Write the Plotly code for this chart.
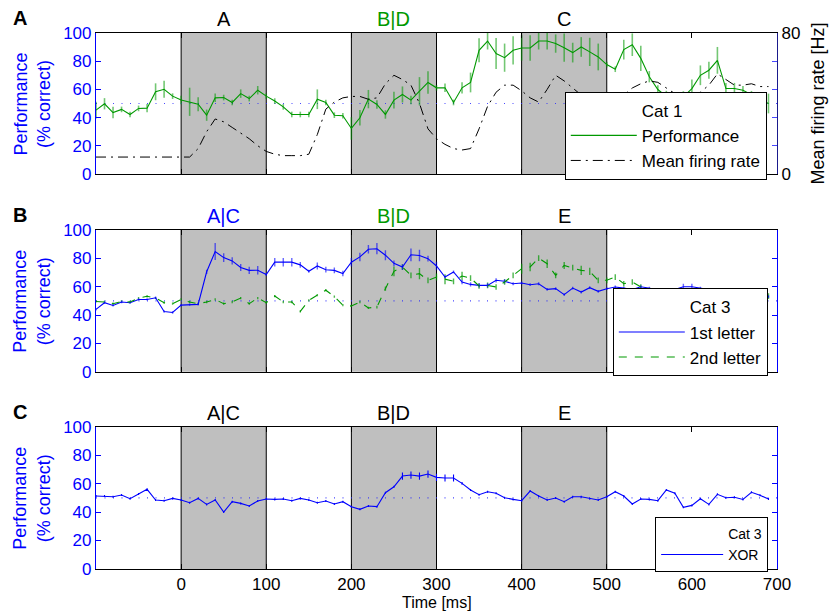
import plotly.graph_objects as go

# ---------------- data ----------------
TIME_MS = list(range(-100, 700, 10))

CAT1_PERF = [45.3, 49.8, 43.6, 45.8, 42.2, 46.5, 46.7, 58.3, 60.1, 55.2,
             52.4, 51.2, 49.5, 41.7, 54.0, 54.2, 50.7, 57.0, 53.5, 59.4,
             55.2, 51.7, 47.6, 42.2, 42.2, 42.2, 53.0, 50.7, 41.7, 41.3,
             32.3, 39.9, 53.1, 49.3, 42.2, 52.4, 56.4, 52.4, 58.7, 64.9,
             61.1, 61.1, 50.7, 61.1, 64.9, 87.7, 94.3, 85.4, 82.5, 87.7,
             89.4, 89.4, 94.3, 94.3, 92.5, 89.6, 86.1, 90.1, 86.6, 83.0,
             77.6, 74.3, 88.2, 91.7, 82.0, 69.0, 59.9, 55.0, 52.0, 54.7,
             60.6, 70.0, 73.6, 80.6, 60.6, 60.6, 59.4, 55.9, 53.0, 50.0]
CAT1_PERF_ERR = [6, 4, 4, 2, 2, 2, 3, 6, 6, 2,
                 3, 10, 5, 4, 3, 2, 2, 3, 2, 3,
                 2, 2, 2, 2, 2, 2, 7, 2, 2, 2,
                 8, 5.5, 6.5, 3, 3, 6, 5.7, 3, 10, 8,
                 2, 3, 2, 4, 7, 8.5, 6, 11, 10, 10,
                 9, 9, 6, 6, 6.5, 10, 7, 7, 10, 9.5,
                 2, 2, 7, 8, 9, 4, 3, 4, 4, 4,
                 6.5, 7, 6, 9.5, 4, 4, 3, 3, 3, 7]
CAT1_RATE_HZ = [9.6, 9.6, 9.6, 9.4, 9.3, 9.2, 9.3, 9.6, 9.6, 9.4,
                9.4, 9.6, 14.4, 24.0, 31.2, 29.6, 26.4, 23.2, 20.0, 16.0,
                12.8, 11.2, 10.4, 10.4, 10.4, 11.2, 22.4, 36.8, 40.8, 43.2,
                44.0, 44.0, 42.4, 43.2, 51.2, 56.0, 53.6, 50.4, 40.0, 25.6,
                20.0, 16.8, 14.4, 13.6, 14.4, 25.6, 38.4, 46.4, 50.4, 50.4,
                47.2, 43.2, 40.8, 48.0, 56.0, 52.8, 48.8, 44.8, 41.6, 40.0,
                40.0, 41.6, 44.8, 48.8, 51.2, 52.8, 52.0, 48.8, 45.6, 44.0,
                44.8, 46.4, 50.4, 56.8, 53.6, 50.4, 50.4, 51.2, 49.6, 49.6]

CAT3_FIRST = [44.0, 48.7, 46.8, 49.2, 48.7, 51.0, 51.0, 52.2, 42.5, 41.8,
              47.0, 47.3, 47.5, 70.5, 84.8, 80.5, 78.2, 73.5, 71.5, 71.6,
              68.6, 77.3, 77.3, 77.3, 75.4, 70.9, 74.6, 72.0, 71.5, 69.3,
              77.3, 81.0, 86.4, 86.8, 82.2, 76.5, 73.8, 82.5, 82.0, 79.8,
              74.6, 66.8, 70.4, 63.3, 61.6, 60.9, 60.9, 64.5, 63.8, 62.1,
              62.6, 61.4, 62.1, 58.1, 58.6, 54.4, 59.0, 56.2, 59.3, 56.7,
              58.6, 59.8, 59.0, 58.0, 60.0, 59.0, 58.0, 57.0, 58.0, 60.0,
              60.0, 59.0, 58.0, 57.0, 56.0, 57.0, 55.0, 56.0, 54.0, 53.0]
CAT3_FIRST_ERR = [0.8, 0.8, 0.8, 0.8, 0.8, 0.8, 0.8, 0.8, 0.8, 0.8,
                  0.8, 0.8, 0.8, 1.5, 6, 3, 2.5, 2.5, 2.5, 3,
                  1, 3, 3, 3, 2, 1, 2.5, 2, 2, 2,
                  3, 3, 3, 4, 3.5, 2, 2, 4.5, 4, 2,
                  3, 1, 1, 1.5, 1.5, 1.5, 1.5, 1.5, 1.5, 1,
                  1, 1, 1, 1, 1, 1, 1, 1, 1, 1,
                  1, 1, 1, 1, 1, 1, 1, 1, 1, 2,
                  2, 1, 1, 1, 1, 1, 1, 1, 1, 1]
CAT3_SECOND = [49.6, 49.2, 48.0, 49.6, 49.2, 52.0, 53.2, 52.0, 48.7, 48.0,
               51.0, 49.2, 48.0, 49.2, 51.0, 48.0, 49.2, 52.0, 48.0, 52.0,
               48.7, 53.4, 49.2, 49.2, 42.6, 50.4, 54.0, 57.5, 53.0, 47.0,
               46.4, 49.2, 45.0, 45.6, 58.6, 70.8, 73.9, 68.0, 69.2, 64.5,
               66.8, 65.2, 63.8, 67.5, 66.1, 60.5, 60.9, 59.8, 63.3, 68.0,
               72.7, 73.9, 80.2, 76.2, 68.0, 75.0, 73.4, 71.5, 70.8, 64.5,
               64.5, 66.8, 62.1, 63.3, 59.8, 57.0, 56.0, 57.0, 56.0, 55.0,
               56.0, 55.0, 56.0, 55.0, 54.0, 55.0, 54.0, 54.0, 53.5, 53.4]
CAT3_SECOND_ERR = [0.8, 0.8, 0.8, 0.8, 0.8, 0.8, 0.8, 0.8, 0.8, 0.8,
                   0.8, 0.8, 0.8, 0.8, 0.8, 0.8, 0.8, 0.8, 0.8, 0.8,
                   0.8, 0.8, 0.8, 0.8, 0.8, 0.8, 0.8, 0.8, 0.8, 0.8,
                   0.8, 0.8, 0.8, 1, 1.5, 3.5, 2, 2, 4, 2,
                   2.5, 3.5, 2, 3, 2, 2, 2, 2, 2, 2,
                   3.5, 3, 2, 3, 2, 2.5, 2, 3.3, 2.6, 2,
                   2, 2, 2, 2, 2, 2, 2, 2, 2, 2,
                   2, 2, 2, 2, 2, 2, 2, 2, 2, 2]

CAT3_XOR = [51.3, 51.3, 50.8, 52.0, 49.4, 52.7, 56.0, 48.5, 48.0, 49.6,
            48.5, 46.6, 49.6, 45.4, 48.5, 40.0, 47.3, 46.1, 44.3, 47.8,
            49.2, 48.9, 49.2, 48.0, 49.6, 48.5, 46.6, 47.8, 45.7, 47.3,
            43.8, 41.9, 44.3, 43.8, 53.6, 57.8, 65.3, 66.0, 65.3, 66.7,
            64.4, 63.9, 63.9, 60.2, 55.5, 52.2, 54.3, 53.2, 50.1, 48.9,
            48.0, 54.8, 51.3, 48.5, 49.9, 47.3, 50.8, 50.8, 49.4, 48.5,
            50.8, 54.3, 51.3, 45.7, 49.2, 48.9, 48.0, 55.5, 53.2, 43.3,
            44.7, 49.4, 45.4, 52.5, 50.1, 50.4, 48.9, 53.9, 51.8, 49.2]
CAT3_XOR_ERR = [0.7] * 36 + [2.5, 2.5, 2.5, 2.5, 2.5, 2.5, 2.5, 1.0] + [0.7] * 36

STIM_ONSETS = [0, 200, 400]
STIM_DURATION = 100
EVENT_LINES = [0, 100, 200, 300, 400, 500]
CHANCE = 50
LABELS_A = [("A", 50, "black"), ("B|D", 250, "#009900"), ("C", 450, "black")]
LABELS_B = [("A|C", 50, "#0000ff"), ("B|D", 250, "#009900"), ("E", 450, "black")]
LABELS_C = [("A|C", 50, "black"), ("B|D", 250, "black"), ("E", 450, "black")]
X_TICKS = [0, 100, 200, 300, 400, 500, 600, 700]
Y_TICKS = [0, 20, 40, 60, 80, 100]
RATE_TICKS = [0, 16, 32, 48, 64, 80]

# ---------------- style ----------------
FONT = "Liberation Sans, Arial, sans-serif"
BLUE = "#0000ff"
GREEN = "#009900"
NAVY = "#1a1a8c"
GRAY = "#bfbfbf"


def err_segments(t, v, e):
    xs, ys = [], []
    for ti, vi, ei in zip(t, v, e):
        xs += [ti, ti, None]
        ys += [vi - ei, vi + ei, None]
    return xs, ys


fig = go.Figure()

# ----- Panel A -----
ex, ey = err_segments(TIME_MS, CAT1_PERF, CAT1_PERF_ERR)
fig.add_trace(go.Scatter(x=[None], y=[None], mode="lines", name="Cat 1",
                         line=dict(color="rgba(0,0,0,0)"), legend="legend",
                         xaxis="x", yaxis="y"))
fig.add_trace(go.Scatter(x=TIME_MS, y=CAT1_RATE_HZ, mode="lines", showlegend=False,
                         line=dict(color="black", width=1, dash="10px,5px,2px,5px"),
                         xaxis="x", yaxis="y2"))
fig.add_trace(go.Scatter(x=ex, y=ey, mode="lines", showlegend=False,
                         line=dict(color="rgba(0,153,0,0.55)", width=1.6),
                         xaxis="x", yaxis="y"))
fig.add_trace(go.Scatter(x=TIME_MS, y=CAT1_PERF, mode="lines", name="Performance",
                         line=dict(color=GREEN, width=1.1), legend="legend",
                         xaxis="x", yaxis="y"))
fig.add_trace(go.Scatter(x=[None], y=[None], mode="lines", name="Mean firing rate",
                         line=dict(color="black", width=1, dash="10px,5px,2px,5px"),
                         legend="legend", xaxis="x", yaxis="y2"))

# ----- Panel B -----
fig.add_trace(go.Scatter(x=[None], y=[None], mode="lines", name="Cat 3",
                         line=dict(color="rgba(0,0,0,0)"), legend="legend2",
                         xaxis="x2", yaxis="y3"))
ex, ey = err_segments(TIME_MS, CAT3_SECOND, CAT3_SECOND_ERR)
fig.add_trace(go.Scatter(x=ex, y=ey, mode="lines", showlegend=False,
                         line=dict(color="rgba(0,153,0,0.7)", width=1.4),
                         xaxis="x2", yaxis="y3"))
ex, ey = err_segments(TIME_MS, CAT3_FIRST, CAT3_FIRST_ERR)
fig.add_trace(go.Scatter(x=ex, y=ey, mode="lines", showlegend=False,
                         line=dict(color="rgba(0,0,255,0.6)", width=1.4),
                         xaxis="x2", yaxis="y3"))
fig.add_trace(go.Scatter(x=TIME_MS, y=CAT3_FIRST, mode="lines", name="1st letter",
                         line=dict(color=BLUE, width=1.1), legend="legend2",
                         xaxis="x2", yaxis="y3"))
fig.add_trace(go.Scatter(x=TIME_MS, y=CAT3_SECOND, mode="lines", name="2nd letter",
                         line=dict(color=GREEN, width=1.1, dash="8px,8px"), legend="legend2",
                         xaxis="x2", yaxis="y3"))

# ----- Panel C -----
fig.add_trace(go.Scatter(x=[None], y=[None], mode="lines", name="Cat 3",
                         line=dict(color="rgba(0,0,0,0)"), legend="legend3",
                         xaxis="x3", yaxis="y4"))
ex, ey = err_segments(TIME_MS, CAT3_XOR, CAT3_XOR_ERR)
fig.add_trace(go.Scatter(x=ex, y=ey, mode="lines", showlegend=False,
                         line=dict(color=BLUE, width=1.1),
                         xaxis="x3", yaxis="y4"))
fig.add_trace(go.Scatter(x=TIME_MS, y=CAT3_XOR, mode="lines", name="XOR",
                         line=dict(color=BLUE, width=1.1), legend="legend3",
                         xaxis="x3", yaxis="y4"))

# ----- shapes -----
shapes = []
for xr, yr in [("x", "y"), ("x2", "y3"), ("x3", "y4")]:
    for s in STIM_ONSETS:
        shapes.append(dict(type="rect", xref=xr, yref=yr + " domain", x0=s, x1=s + STIM_DURATION,
                           y0=0, y1=1, fillcolor=GRAY, line=dict(width=0), layer="below"))
    for t in EVENT_LINES:
        shapes.append(dict(type="line", xref=xr, yref=yr + " domain", x0=t, x1=t, y0=0, y1=1,
                           line=dict(color="black", width=1), layer="below"))
    shapes.append(dict(type="line", xref=xr + " domain", yref=yr, x0=0, x1=1, y0=CHANCE, y1=CHANCE,
                       line=dict(color="rgba(40,40,255,0.85)", width=1.2, dash="1px,7.5px"),
                       layer="below"))

# ----- annotations -----
ann = []
for labels, yr in [(LABELS_A, "y"), (LABELS_B, "y3"), (LABELS_C, "y4")]:
    xr = {"y": "x", "y3": "x2", "y4": "x3"}[yr]
    for txt, xc, col in labels:
        ann.append(dict(text=txt, x=xc, xref=xr, y=1, yref=yr + " domain", yanchor="bottom",
                        xanchor="center", showarrow=False, yshift=1,
                        font=dict(size=20, color=col, family=FONT)))

doms = {"y": (0.737, 1.0), "y3": (0.368, 0.6325), "y4": (0.0, 0.2655)}
for letter, yr in [("A", "y"), ("B", "y3"), ("C", "y4")]:
    d0, d1 = doms[yr]
    ann.append(dict(text="<b>%s</b>" % letter, x=-0.111, xref="paper", y=d1, yref="paper",
                    xanchor="center", yanchor="bottom", yshift=2, showarrow=False,
                    font=dict(size=20, color="black", family=FONT)))
    ann.append(dict(text="Performance<br>(% correct)", x=-0.094, xref="paper",
                    y=(d0 + d1) / 2, yref="paper", xanchor="center", yanchor="middle",
                    textangle=-90, showarrow=False,
                    font=dict(size=18, color=BLUE, family=FONT)))

ann.append(dict(text="Mean firing rate [Hz]", x=1.0, xref="paper", xshift=41,
                y=sum(doms["y"]) / 2, yref="paper", xanchor="center", yanchor="middle",
                textangle=-90, showarrow=False, font=dict(size=18, color="black", family=FONT)))
ann.append(dict(text="Time [ms]", x=0.5, xref="paper", y=-0.05, yref="paper", yshift=3,
                xanchor="center", yanchor="top", showarrow=False, borderpad=0,
                font=dict(size=16, color="black", family=FONT)))

# ----- axes -----
def xax(anchor, labels):
    return dict(domain=[0, 1], anchor=anchor, range=[-100, 700], tickvals=X_TICKS,
                showticklabels=labels, ticks="inside", ticklen=5, tickcolor="black",
                showline=True, linecolor="black", linewidth=1, mirror="ticks",
                showgrid=False, zeroline=False,
                tickfont=dict(size=17, color="black", family=FONT))


def yax(dom, anchor, mirror):
    return dict(domain=list(dom), anchor=anchor, range=[0, 100], tickvals=Y_TICKS,
                ticks="inside", ticklen=5, tickcolor=BLUE, showline=True, linecolor=BLUE,
                linewidth=1.2, mirror=mirror, showgrid=False, zeroline=False,
                tickfont=dict(size=17, color=BLUE, family=FONT))


legend_common = dict(xanchor="right", yanchor="top", bordercolor="black", borderwidth=1,
                     bgcolor="white", tracegroupgap=0)

fig.update_layout(
    width=829, height=613,
    margin=dict(l=96, r=52, t=33, b=44),
    paper_bgcolor="white", plot_bgcolor="white",
    font=dict(family=FONT, color="black"),
    xaxis=xax("y", False),
    xaxis2=xax("y3", False),
    xaxis3=xax("y4", True),
    yaxis=yax(doms["y"], "x", False),
    yaxis2=dict(overlaying="y", side="right", anchor="x", range=[0, 80], tickvals=RATE_TICKS,
                ticktext=["0", "", "", "", "", "80"], ticks="inside", ticklen=5,
                tickcolor="#4848ff", showline=True, linecolor=NAVY, linewidth=1.2,
                showgrid=False, zeroline=False,
                tickfont=dict(size=17, color="black", family=FONT)),
    yaxis3=yax(doms["y3"], "x2", "ticks"),
    yaxis4=yax(doms["y4"], "x3", "ticks"),
    legend=dict(x=0.985, y=0.8905, font=dict(size=17, color="black", family=FONT),
                itemwidth=66, **legend_common),
    legend2=dict(x=0.9865, y=0.5237, font=dict(size=17, color="black", family=FONT),
                 itemwidth=66, **legend_common),
    legend3=dict(x=0.987, y=0.0976, font=dict(size=14, color="black", family=FONT),
                 itemwidth=62, **legend_common),
    shapes=shapes,
    annotations=ann,
)

fig.write_html("out.html")
